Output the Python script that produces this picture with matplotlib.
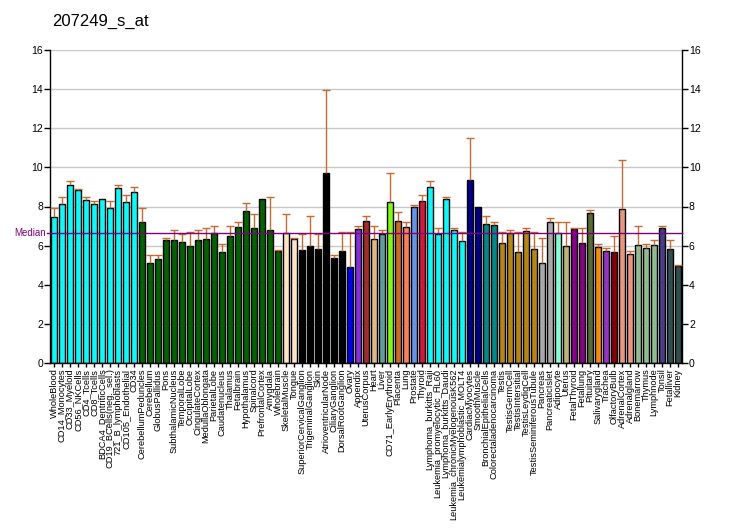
import matplotlib
matplotlib.use("Agg")
import matplotlib.pyplot as plt
import matplotlib.transforms as mtransforms
import numpy as np

plt.rcParams['font.family'] = ['Liberation Sans', 'DejaVu Sans']

title = "207249_s_at"

labels = [
    "WholeBlood", "CD14_Monocytes", "CD33_Myeloid", "CD56_NKCells", "CD4_Tcells",
    "CD8_Tcells", "BDCA4_DentriticCells", "CD19_BCells(neg._sel.)", "721_B_lymphoblasts",
    "CD105_Endothelial", "CD34", "CerebellumPeduncles", "Cerebellum", "GlobusPallidus",
    "Pons", "SubthalamicNucleus", "TemporalLobe", "OccipitalLobe", "CingulateCortex",
    "MedullaOblongata", "ParietalLobe", "Caudatenucleus", "Thalamus", "Fetalbrain",
    "Hypothalamus", "Spinalcord", "PrefrontalCortex", "Amygdala", "Wholebrain",
    "SkeletalMuscle", "Tongue", "SuperiorCervicalGanglion", "TrigeminalGanglion", "Skin",
    "AtrioventricularNode", "CiliaryGanglion", "DorsalRootGanglion", "Ovary", "Appendix",
    "UterusCorpus", "Heart", "Liver", "CD71_EarlyErythroid", "Placenta", "Lung",
    "Prostate", "Thyroid", "Lymphoma_burkitts_Raji", "Leukemia_promyelocytic_HL60",
    "Lymphoma_burkitts_Daudi", "Leukemia_chronicMyelogenousK562",
    "Leukemialymphoblastic_MOLT4", "CardiacMyocytes", "SmoothMuscle",
    "BronchialEpithelialCells", "Colorectaladenocarcinoma", "Testis", "TestisGermCell",
    "TestisIntersitial", "TestisLeydigCell", "TestisSeminiferousTubule", "Pancreas",
    "PancreaticIslet", "Adipocyte", "Uterus", "FetalThyroid", "Fetallung", "Pituitary",
    "Salivarygland", "Trachea", "OlfactoryBulb", "AdrenalCortex", "Adrenalgland",
    "Bonemarrow", "Thymus", "Lymphnode", "Tonsil", "Fetalliver", "Kidney",
]

values = [
    7.45, 8.11, 9.08, 8.83, 8.32, 8.11, 8.37, 7.90, 8.93, 8.21, 8.72,
    7.19, 5.10, 5.31, 6.28, 6.28, 6.17, 5.97, 6.28, 6.33, 6.63, 5.66, 6.48, 6.94,
    7.76, 6.89, 8.37, 6.79, 5.71,
    6.63, 6.33,
    5.77, 5.97, 5.82, 9.71, 5.36, 5.71,
    4.90, 6.84, 7.24, 6.33, 6.60, 8.22, 7.25, 6.94, 7.97, 8.27,
    8.99, 6.59, 8.37, 6.79, 6.23,
    9.34, 7.97, 7.10, 7.05,
    6.13, 6.64, 5.67, 6.74, 5.82,
    5.11, 7.20, 6.64, 5.97, 6.86, 6.13, 7.66, 5.92, 5.72, 5.67, 7.86, 5.57,
    6.03, 5.87, 6.03, 6.89, 5.82, 4.95,
]

err_tops = [
    7.90, 8.47, 9.29, 8.88, 8.47, 8.27, 8.37, 8.27, 9.08, 8.57, 8.98,
    7.90, 5.51, 5.51, 6.38, 6.79, 6.58, 6.68, 6.79, 6.89, 6.99, 6.07, 6.99, 7.19,
    8.16, 7.60, 8.37, 8.47, 5.77,
    7.60, 6.38,
    6.58, 7.50, 6.58, 13.98, 5.51, 6.68,
    6.68, 6.99, 7.50, 6.99, 6.79, 9.70, 7.71, 7.20, 8.07, 8.58,
    9.29, 6.89, 8.48, 6.89, 6.69,
    11.49, 7.97, 7.51, 7.20,
    6.69, 6.79, 6.69, 6.89, 6.69,
    6.38, 7.40, 7.20, 7.20, 6.89, 6.89, 7.81, 6.08, 5.87, 6.49, 10.37, 5.72,
    7.00, 6.08, 6.28, 7.00, 6.28, 5.00,
]

median_value = 6.62

colors = (
    ["#00FFFF"] * 11 + ["#006400"] * 18 + ["#FFE4C4"] * 2 + ["#000000"] * 6 +
    ["#0000FF", "#8A2BE2", "#A52A2A", "#DEB887", "#5F9EA0", "#7FFF00", "#D2691E",
     "#FF7F50", "#6495ED", "#DC143C"] +
    ["#00FFFF"] * 5 + ["#00008B"] * 2 + ["#008B8B"] * 2 + ["#B8860B"] * 5 +
    ["#A9A9A9"] * 2 + ["#7FFFD4", "#BDB76B", "#8B008B", "#8B008B", "#556B2F",
                       "#FF8C00", "#9932CC", "#8B0000", "#E9967A", "#E9967A"] +
    ["#8FBC8F"] * 3 + ["#483D8B", "#2F4F4F", "#2F4F4F"]
)

fig = plt.figure(figsize=(7.32, 5.30), dpi=100)
ax = fig.add_axes([50 / 732, 1 - 363 / 530, 632 / 732, 313 / 530])

x = np.arange(len(labels))
vals = np.array(values)
tops = np.array(err_tops)

ax.set_ylim(0, 16)
ax.set_xlim(-0.5, len(labels) - 0.5)
ax.set_yticks(np.arange(0, 17, 2))
for yv in np.arange(2, 17, 2):
    ax.axhline(yv, color="#C8C8C8", lw=1, zorder=0)

ax.bar(x, vals, width=0.78, color=colors, edgecolor="black", linewidth=1, zorder=2)

ecol = "#C8692D"
mask = tops > vals + 0.01
ax.vlines(x[mask], vals[mask], tops[mask], color=ecol, lw=1, zorder=3)
ax.plot(x[mask], tops[mask], linestyle="none", marker="_", markersize=6,
        markeredgewidth=1, color=ecol, zorder=3)

trans = mtransforms.blended_transform_factory(ax.transAxes, ax.transData)
ax.plot([-3 / 632, 1], [median_value, median_value], color="#800080", lw=1,
        transform=trans, clip_on=False, zorder=4)
ax.text(-4 / 632, median_value, "Median", color="#800080", fontsize=7,
        ha="right", va="center", transform=trans)

ax.set_xticks(x)
ax.set_xticklabels(labels, rotation=90, fontsize=6.7, va="top", ha="center")
ax.tick_params(axis="x", length=3, width=1, pad=1)
ax.tick_params(axis="y", labelsize=7.5, length=4, width=1, pad=1,
               left=True, right=True, labelleft=True, labelright=True)

ax.spines["top"].set_visible(False)
for s in ["left", "right", "bottom"]:
    ax.spines[s].set_linewidth(1)
    ax.spines[s].set_color("black")

fig.text(52 / 732, 1 - 21 / 530, title, fontsize=12, ha="left", va="center")

fig.savefig("out.png", dpi=100)
